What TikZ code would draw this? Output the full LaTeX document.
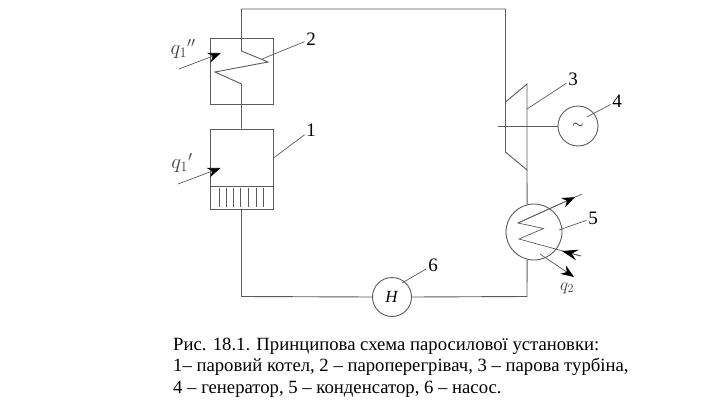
\documentclass[tikz,border=0pt]{standalone}
\usepackage{fontspec}
\setmainfont{Liberation Serif}
\usetikzlibrary{arrows.meta}
\definecolor{linegray}{HTML}{5A5A5A}
\tikzset{
  pipe/.style={draw=linegray,line width=0.9pt},
  thin line/.style={draw=linegray,line width=0.7pt},
  unitbox/.style={pipe,minimum width=63pt,inner sep=0pt},
  unitcircle/.style={pipe,circle,inner sep=0pt},
  number/.style={inner sep=1.5pt,font=\fontsize{19}{19}\selectfont},
  heat/.style={thin line,-{Stealth[length=13pt,width=10pt,black]}},
  backflow/.style={thin line,-{Stealth[length=16pt,width=11pt,inset=6pt,black]}},
  caption/.style={anchor=base west,inner sep=0pt,font=\fontsize{18.7}{18.7}\selectfont}
}
\begin{document}
\begin{tikzpicture}[x=1pt,y=-1pt]
\useasboundingbox (0,0) rectangle (705,407);
\node[unitbox,minimum height=66pt] (heater) at (241.5,71) {};
\node[unitbox,minimum height=80pt] (boiler) at (241.5,169) {};
\node[unitcircle,minimum size=56pt] (cond) at (534,232) {};
\node[unitcircle,minimum size=40pt] (gen) at (578,126) {\fontsize{14}{14}\selectfont$\sim$};
\node[unitcircle,minimum size=39pt] (pump) at (392,297) {\fontsize{17}{17}\selectfont\textit{H}};

\node[number] (n1) at (311,130) {1};
\node[number] (n2) at (311,39) {2};
\node[number] (n3) at (573,79) {3};
\node[number] (n4) at (617,101) {4};
\node[number] (n5) at (593,218) {5};
\node[number] (n6) at (433,265) {6};

% pipe loop
\coordinate (topl) at (241.5,9);
\coordinate (topr) at (505.5,9);
\coordinate (coila) at (241.5,51);
\coordinate (coilb) at (268,62);
\coordinate (coilc) at (215,72);
\coordinate (coild) at (241.5,84);
\coordinate (botl) at (241.5,296.5);
\coordinate (botr) at (527,296.5);
\draw[pipe] (boiler.north) -- (coild) -- (coilc) -- (coilb) -- (coila) -- (topl) -- (topr) -- (505.5,102);
\draw[pipe] (boiler.south) -- (botl) -- (pump.west);
\draw[pipe] (pump.east) -- (botr) -- (cond.-104.5);

% turbine
\coordinate (turbd) at (527,170);
\draw[pipe] (505.5,102) -- (527,84) -- (turbd) -- (505.5,152) -- cycle;
\draw[pipe] (turbd) -- (cond.104.5);
\coordinate (shaft) at (498,126);
\draw[pipe] (shaft) -- (gen.west);

% grate
\coordinate (grate) at (241.5,186);
\draw[pipe] (boiler.west |- grate) -- (boiler.east |- grate);
\foreach \x in {219,226,233,240.5,248,256,263}
  \draw[thin line] (\x,188) -- (\x,207);

% condenser coil
\coordinate (cala) at (518,223);
\coordinate (calb) at (543.5,228.5);
\coordinate (calc) at (519,239);
\coordinate (outa) at (582,194);
\coordinate (outb) at (575,197.2);
\coordinate (wateri) at (581,256);
\coordinate (waterj) at (562,251);
\draw[thin line] (outa) -- (cala) -- (calb) -- (calc) -- (wateri);
\draw[heat] (cala) -- (outb);
\draw[backflow] (wateri) -- (waterj);

% heat
\coordinate (qa) at (179,69);
\coordinate (qb) at (221,53);
\coordinate (qc) at (178,184);
\coordinate (qd) at (220.5,168);
\coordinate (qe) at (540,254);
\coordinate (qf) at (574,277);
\draw[heat] (qa) -- (qb);
\draw[heat] (qc) -- (qd);
\draw[heat] (qe) -- (qf);
\node[text=black!75,font=\fontsize{20}{20}\selectfont] (q1b) at (183,49) {$q_1{}''$};
\node[text=black!75,font=\fontsize{20}{20}\selectfont] (q1a) at (182,163) {$q_1{}'$};
\node[text=black!75,font=\fontsize{18}{18}\selectfont] (q2) at (567,288) {$q_2$};

% leaders
\draw[thin line] (262,59) -- (n2);
\draw[thin line] (boiler.east) ++(0,-11) -- (n1);
\draw[thin line] (527,109) -- (n3);
\draw[thin line] (587,117) -- (n4);
\draw[thin line] (559,230) -- (n5);
\draw[thin line] (402,283) -- (n6);

% caption
\node[caption] (capa) at (173,350) {Рис. 18.1.\,\,Принципова схема паросилової установки:};
\node[caption] (capb) at (173,371) {1– паровий котел, 2 – пароперегрівач, 3 – парова турбіна,};
\node[caption] (capc) at (173,393) {4 – генератор, 5 – конденсатор, 6 – насос.};
\end{tikzpicture}
\end{document}
